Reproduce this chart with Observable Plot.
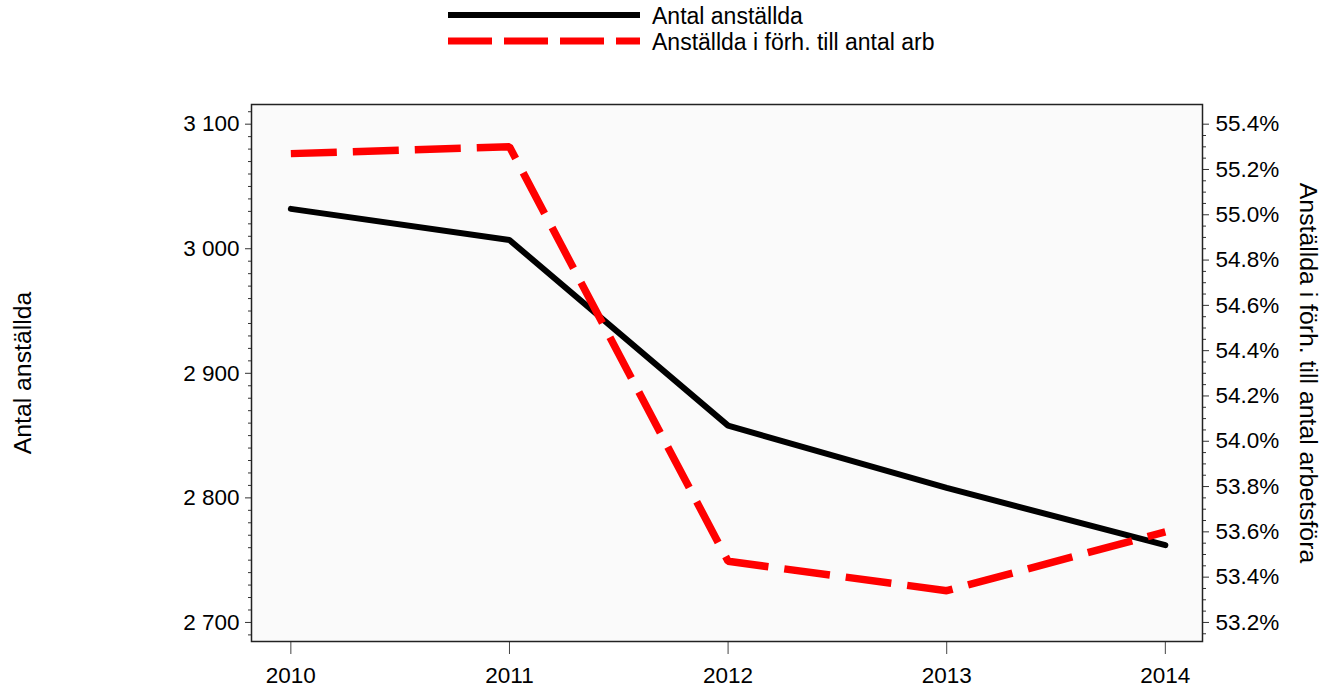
<!DOCTYPE html>
<html>
<head>
<meta charset="utf-8">
<script src="https://cdn.jsdelivr.net/npm/d3@7"></script>
<script src="https://cdn.jsdelivr.net/npm/@observablehq/plot@0.6"></script>
<style>
  html, body { margin: 0; padding: 0; background: #fff; }
  #wrap { position: relative; width: 1330px; height: 692px; font-family: "Liberation Sans", Arial, sans-serif; }
  #legend { position: absolute; left: 0; top: 0; }
</style>
</head>
<body>
<div id="wrap">
  <div id="chart"></div>
  <svg id="legend" width="1330" height="60"></svg>
</div>
<script>
const years = [2010, 2011, 2012, 2013, 2014];
const anstallda = [3032, 3007, 2858, 2808, 2762];
const andelPct = [55.27, 55.30, 53.47, 53.34, 53.60];
const seriesNames = ["Antal anställda", "Anställda i förh. till antal arb"];
const leftTitle = "Antal anställda";
const rightTitle = "Anställda i förh. till antal arbetsföra";
const leftTicks = [2700, 2800, 2900, 3000, 3100];
const rightTicks = [53.2, 53.4, 53.6, 53.8, 54.0, 54.2, 54.4, 54.6, 54.8, 55.0, 55.2, 55.4];

// map right-axis % onto left-axis units
const toLeft = p => 2700 + (p - 53.2) / 2.2 * 400;
const fromLeft = v => 53.2 + (v - 2700) / 400 * 2.2;

const leftMinor = d3.range(2690, 3111, 10).filter(v => !leftTicks.includes(v));
const rightMinor = d3.range(0, 46).map(i => +(53.15 + i * 0.05).toFixed(2))
  .filter(p => p <= 55.45 && !rightTicks.some(t => Math.abs(t - p) < 1e-6));

const black = years.map((y, i) => ({year: y, v: anstallda[i]}));
const red = years.map((y, i) => ({year: y, v: toLeft(andelPct[i])}));

const fmtLeft = v => d3.format(",")(v).replace(/,/g, " ");
const TICK_FS = 22.5;
const TITLE_FS = 24.8;

const plot = Plot.plot({
  width: 1330,
  height: 692,
  marginLeft: 251,
  marginRight: 128,
  marginTop: 104,
  marginBottom: 51,
  style: {fontFamily: "Liberation Sans, Arial, sans-serif", fontSize: "22px", background: "transparent"},
  x: {domain: [2009.82, 2014.17]},
  y: {domain: [2684.7, 3115.8]},
  marks: [
    Plot.frame({fill: "#fafafa", stroke: null}),
    Plot.axisX(years, {anchor: "bottom", tickSize: 13, tickPadding: 13, tickFormat: d => String(d), fontSize: TICK_FS, label: null, stroke: "#444", fill: "black"}),
    Plot.axisY(leftTicks, {anchor: "left", tickSize: 6, tickPadding: 6, tickFormat: fmtLeft, fontSize: TICK_FS, label: null, stroke: "#333", fill: "black"}),
    Plot.axisY(leftMinor, {anchor: "left", tickSize: 3, tickFormat: () => "", label: null, stroke: "#333"}),
    Plot.axisY(rightTicks.map(toLeft), {anchor: "right", tickSize: 6, tickPadding: 7, tickFormat: v => fromLeft(v).toFixed(1) + "%", fontSize: TICK_FS, label: null, stroke: "#333", fill: "black"}),
    Plot.axisY(rightMinor.map(toLeft), {anchor: "right", tickSize: 3, tickFormat: () => "", label: null, stroke: "#333"}),
    Plot.line(black, {x: "year", y: "v", stroke: "black", strokeWidth: 6, strokeLinejoin: "miter", strokeLinecap: "round"}),
    Plot.line(red, {x: "year", y: "v", stroke: "#ff0000", strokeWidth: 7.5, strokeDasharray: "46,16", strokeLinecap: "butt", strokeLinejoin: "miter"}),
    Plot.frame({stroke: "#222", strokeWidth: 1.5}),
    Plot.text([leftTitle], {frameAnchor: "left", dx: -228, rotate: -90, textAnchor: "middle", fontSize: TITLE_FS, fill: "black"}),
    Plot.text([rightTitle], {frameAnchor: "right", dx: 105, rotate: 90, textAnchor: "middle", fontSize: TITLE_FS, fill: "black"})
  ]
});
document.getElementById("chart").appendChild(plot);

// legend
const lg = d3.select("#legend");
const items = [
  {name: seriesNames[0], color: "black", width: 6, dash: null, y: 15},
  {name: seriesNames[1], color: "#ff0000", width: 7, dash: "44,12", y: 41}
];
items.forEach(it => {
  lg.append("line").attr("x1", 448).attr("x2", 640).attr("y1", it.y).attr("y2", it.y)
    .attr("stroke", it.color).attr("stroke-width", it.width)
    .attr("stroke-dasharray", it.dash);
  lg.append("text").attr("x", 652).attr("y", it.y + 9).attr("font-size", 23)
    .attr("font-family", "Liberation Sans, Arial, sans-serif").attr("fill", "black").text(it.name);
});
</script>
</body>
</html>
